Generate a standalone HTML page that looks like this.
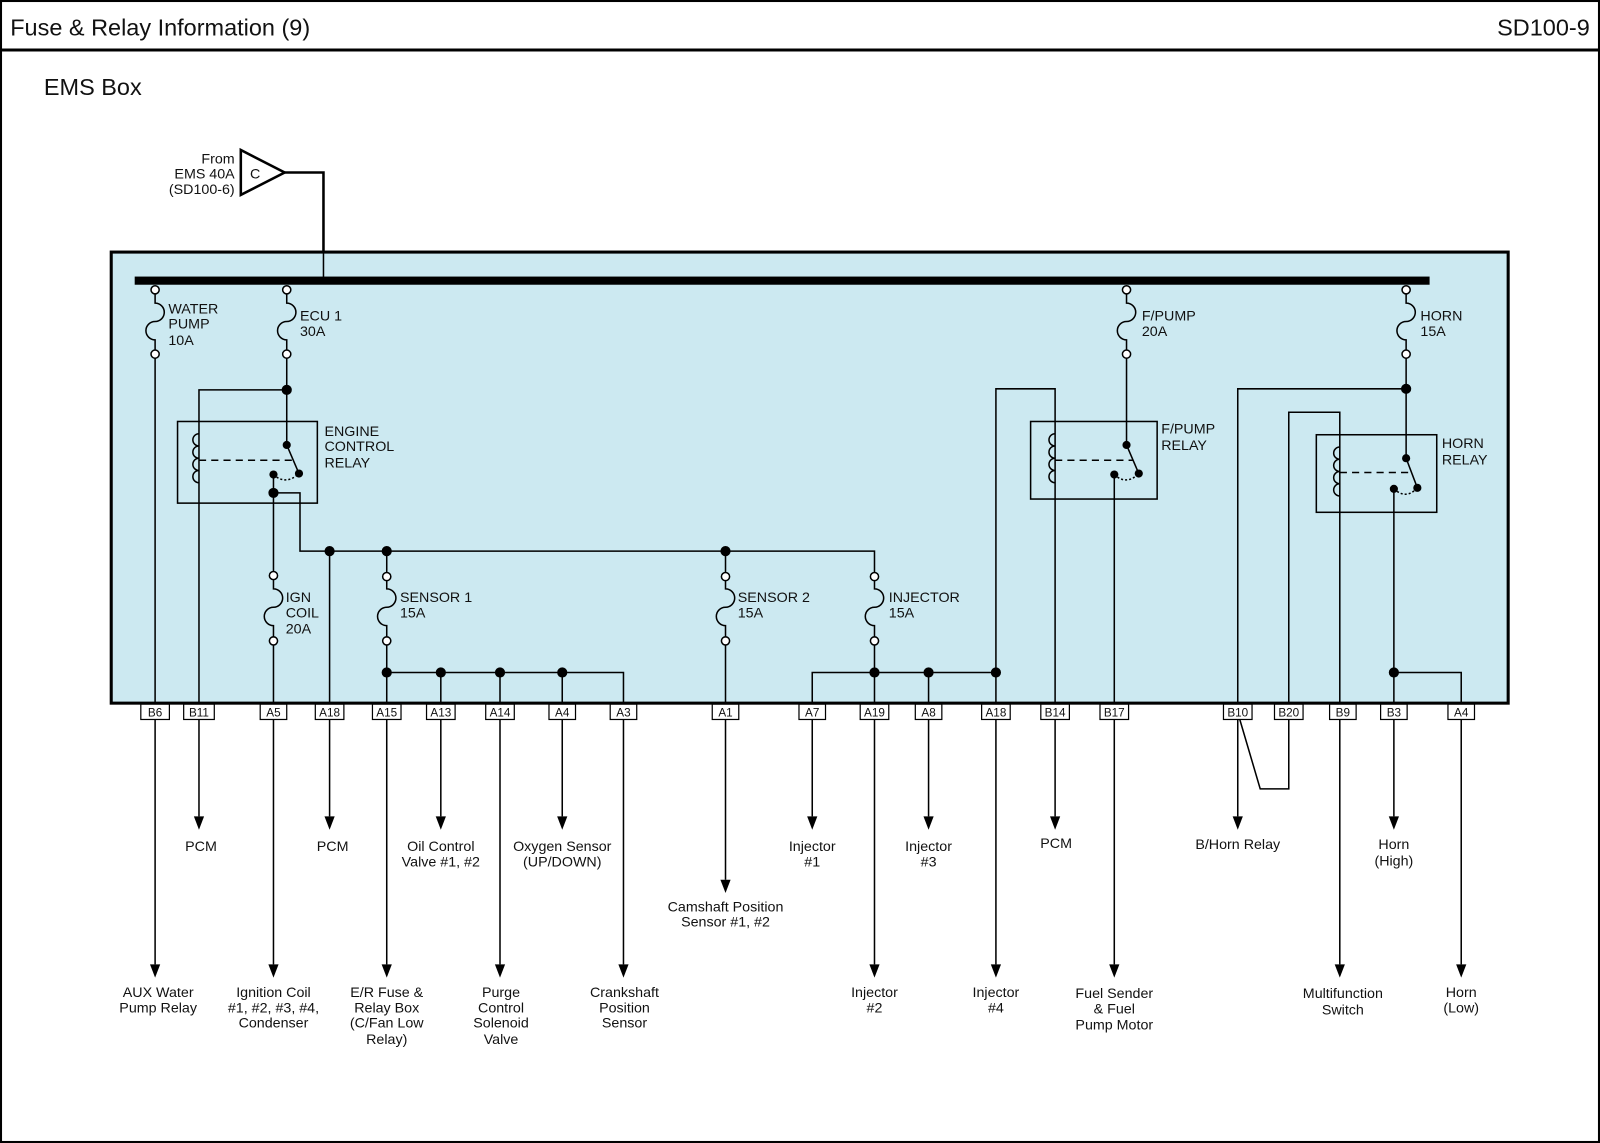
<!DOCTYPE html>
<html><head><meta charset="utf-8"><style>
html,body{margin:0;padding:0;background:#fff}
svg{display:block}
text{font-family:"Liberation Sans",Arial,sans-serif;fill:#111}
.l{font-size:14px}
.c{font-size:11.5px;text-anchor:middle}
.m{text-anchor:middle;font-size:14px}
</style></head><body>
<svg width="1600" height="1143" viewBox="0 0 1568 1120" preserveAspectRatio="none" xmlns="http://www.w3.org/2000/svg">
<rect x="1" y="1" width="1566" height="1118" fill="#fff" stroke="#000" stroke-width="2"/>
<line x1="0" y1="49" x2="1568" y2="49" stroke="#000" stroke-width="3"/>
<text x="10" y="35" style="font-size:23px">Fuse &amp; Relay Information (9)</text>
<text x="1558" y="35" style="font-size:23px;text-anchor:end">SD100-9</text>
<text x="43" y="93" style="font-size:23px">EMS Box</text>

<!-- input -->
<polygon points="236,147 236,191 279,169" fill="#fff" stroke="#000" stroke-width="2.5"/>
<text x="245" y="175" class="l">C</text>
<text x="230" y="160" class="l" text-anchor="end">From</text>
<text x="230" y="175" class="l" text-anchor="end">EMS 40A</text>
<text x="230" y="190" class="l" text-anchor="end">(SD100-6)</text>
<polyline points="279,169 317,169 317,275" fill="none" stroke="#000" stroke-width="2.5"/>

<rect x="109" y="247" width="1369" height="442" fill="#cce9f1" stroke="#000" stroke-width="3"/>
<line x1="317" y1="247" x2="317" y2="275" stroke="#000" stroke-width="1.5"/>
<rect x="132" y="271" width="1269" height="8" fill="#000"/>

<g fill="none" stroke="#000" stroke-width="1.5">
<!-- fuses -->
<path d="M152,288 V297 A9 9 0 0 1 152,315 A9 9 0 0 0 152,333 V343"/>
<path d="M281,288 V297 A9 9 0 0 1 281,315 A9 9 0 0 0 281,333 V343"/>
<path d="M1104,288 V297 A9 9 0 0 1 1104,315 A9 9 0 0 0 1104,333 V343"/>
<path d="M1378,288 V297 A9 9 0 0 1 1378,315 A9 9 0 0 0 1378,333 V343"/>
<path d="M268,568 V577 A9 9 0 0 1 268,595 A9 9 0 0 0 268,613 V624"/>
<path d="M379,569 V577 A9 9 0 0 1 379,595 A9 9 0 0 0 379,613 V624"/>
<path d="M711,569 V577 A9 9 0 0 1 711,595 A9 9 0 0 0 711,613 V624"/>
<path d="M857,569 V577 A9 9 0 0 1 857,595 A9 9 0 0 0 857,613 V624"/>
<g fill="#fff">
<circle cx="152" cy="284" r="4"/><circle cx="152" cy="347" r="4"/>
<circle cx="281" cy="284" r="4"/><circle cx="281" cy="347" r="4"/>
<circle cx="1104" cy="284" r="4"/><circle cx="1104" cy="347" r="4"/>
<circle cx="1378" cy="284" r="4"/><circle cx="1378" cy="347" r="4"/>
<circle cx="268" cy="564" r="4"/><circle cx="268" cy="628" r="4"/>
<circle cx="379" cy="565" r="4"/><circle cx="379" cy="628" r="4"/>
<circle cx="711" cy="565" r="4"/><circle cx="711" cy="628" r="4"/>
<circle cx="857" cy="565" r="4"/><circle cx="857" cy="628" r="4"/>
</g>
<!-- wires -->
<line x1="152" y1="351" x2="152" y2="945"/>
<polyline points="281,351 281,436"/>
<polyline points="281,382 195,382 195,800"/>
<polyline points="268,465 268,560"/>
<polyline points="268,632 268,945"/>
<polyline points="268,483 294,483 294,540 857,540 857,561"/>
<line x1="323" y1="540" x2="323" y2="800"/>
<line x1="379" y1="540" x2="379" y2="561"/>
<line x1="379" y1="632" x2="379" y2="945"/>
<polyline points="379,659 611,659 611,945"/>
<line x1="432" y1="659" x2="432" y2="800"/>
<line x1="490" y1="659" x2="490" y2="945"/>
<line x1="551" y1="659" x2="551" y2="800"/>
<line x1="711" y1="540" x2="711" y2="561"/>
<line x1="711" y1="632" x2="711" y2="862"/>
<line x1="857" y1="632" x2="857" y2="945"/>
<polyline points="796,800 796,659 976,659"/>
<line x1="910" y1="659" x2="910" y2="800"/>
<polyline points="976,945 976,381 1034,381 1034,800"/>
<polyline points="1104,351 1104,436"/>
<polyline points="1092,465 1092,945"/>
<polyline points="1378,351 1378,449"/>
<polyline points="1378,381 1213,381 1213,800"/>
<polyline points="1263,705 1263,404 1313,404 1313,945"/>
<polyline points="1366,479 1366,800"/>
<polyline points="1366,659 1432,659 1432,945"/>
<polyline points="1215,705 1235,773 1263,773 1263,705"/>
<!-- relays -->
<rect x="174" y="413" width="137" height="80"/>
<rect x="1010" y="413" width="124" height="76"/>
<rect x="1290" y="426" width="118" height="76"/>
<path d="M195,425 a6 6 0 0 0 0,12 a6 6 0 0 0 0,12 a6 6 0 0 0 0,12 a6 6 0 0 0 0,12"/>
<path d="M1034,425 a6 6 0 0 0 0,12 a6 6 0 0 0 0,12 a6 6 0 0 0 0,12 a6 6 0 0 0 0,12"/>
<path d="M1313,438 a6 6 0 0 0 0,12 a6 6 0 0 0 0,12 a6 6 0 0 0 0,12 a6 6 0 0 0 0,12"/>
<line x1="195" y1="451" x2="287" y2="451" stroke-dasharray="7,5"/>
<line x1="1034" y1="451" x2="1110" y2="451" stroke-dasharray="7,5"/>
<line x1="1313" y1="463" x2="1384" y2="463" stroke-dasharray="7,5"/>
<line x1="281" y1="436" x2="293" y2="464"/>
<line x1="1104" y1="436" x2="1116" y2="464"/>
<line x1="1378" y1="449" x2="1389" y2="478"/>
<path d="M268,465 Q280,476 293,464" stroke-dasharray="2,2"/>
<path d="M1092,465 Q1104,476 1116,464" stroke-dasharray="2,2"/>
<path d="M1366,479 Q1378,490 1389,478" stroke-dasharray="2,2"/>
</g>
<g fill="#000">
<circle cx="281" cy="382" r="5"/><circle cx="268" cy="483" r="5"/>
<circle cx="281" cy="436" r="4"/><circle cx="293" cy="464" r="4"/><circle cx="268" cy="465" r="4"/>
<circle cx="1104" cy="436" r="4"/><circle cx="1116" cy="464" r="4"/><circle cx="1092" cy="465" r="4"/>
<circle cx="1378" cy="449" r="4"/><circle cx="1389" cy="478" r="4"/><circle cx="1366" cy="479" r="4"/>
<circle cx="1378" cy="381" r="5"/>
<circle cx="323" cy="540" r="5"/><circle cx="379" cy="540" r="5"/><circle cx="711" cy="540" r="5"/>
<circle cx="379" cy="659" r="5"/><circle cx="432" cy="659" r="5"/><circle cx="490" cy="659" r="5"/><circle cx="551" cy="659" r="5"/>
<circle cx="857" cy="659" r="5"/><circle cx="910" cy="659" r="5"/><circle cx="976" cy="659" r="5"/>
<circle cx="1366" cy="659" r="5"/>
<!-- arrowheads -->
<path d="M190,800h10l-5,13z"/><path d="M318,800h10l-5,13z"/><path d="M427,800h10l-5,13z"/><path d="M546,800h10l-5,13z"/>
<path d="M791,800h10l-5,13z"/><path d="M905,800h10l-5,13z"/><path d="M1029,800h10l-5,13z"/><path d="M1208,800h10l-5,13z"/><path d="M1361,800h10l-5,13z"/>
<path d="M706,862h10l-5,13z"/>
<path d="M147,945h10l-5,13z"/><path d="M263,945h10l-5,13z"/><path d="M374,945h10l-5,13z"/><path d="M485,945h10l-5,13z"/><path d="M606,945h10l-5,13z"/>
<path d="M852,945h10l-5,13z"/><path d="M971,945h10l-5,13z"/><path d="M1087,945h10l-5,13z"/><path d="M1308,945h10l-5,13z"/><path d="M1427,945h10l-5,13z"/>
</g>

<!-- labels inside -->
<g class="l">
<text x="165" y="307" class="l">WATER</text><text x="165" y="322" class="l">PUMP</text><text x="165" y="338" class="l">10A</text>
<text x="294" y="314" class="l">ECU 1</text><text x="294" y="329" class="l">30A</text>
<text x="318" y="427" class="l">ENGINE</text><text x="318" y="442" class="l">CONTROL</text><text x="318" y="458" class="l">RELAY</text>
<text x="280" y="590" class="l">IGN</text><text x="280" y="605" class="l">COIL</text><text x="280" y="621" class="l">20A</text>
<text x="392" y="590" class="l">SENSOR 1</text><text x="392" y="605" class="l">15A</text>
<text x="723" y="590" class="l">SENSOR 2</text><text x="723" y="605" class="l">15A</text>
<text x="871" y="590" class="l">INJECTOR</text><text x="871" y="605" class="l">15A</text>
<text x="1119" y="314" class="l">F/PUMP</text><text x="1119" y="329" class="l">20A</text>
<text x="1138" y="425" class="l">F/PUMP</text><text x="1138" y="441" class="l">RELAY</text>
<text x="1392" y="314" class="l">HORN</text><text x="1392" y="329" class="l">15A</text>
<text x="1413" y="439" class="l">HORN</text><text x="1413" y="455" class="l">RELAY</text>
</g>

<!-- connectors -->
<g fill="#fff" stroke="#000" stroke-width="1.2">
<rect x="138" y="690" width="28" height="15"/><rect x="180" y="690" width="30" height="15"/><rect x="255" y="690" width="26" height="15"/>
<rect x="309" y="690" width="28" height="15"/><rect x="365" y="690" width="28" height="15"/><rect x="418" y="690" width="28" height="15"/>
<rect x="476" y="690" width="28" height="15"/><rect x="538" y="690" width="26" height="15"/><rect x="598" y="690" width="26" height="15"/>
<rect x="698" y="690" width="26" height="15"/><rect x="783" y="690" width="26" height="15"/><rect x="843" y="690" width="28" height="15"/>
<rect x="897" y="690" width="26" height="15"/><rect x="962" y="690" width="28" height="15"/><rect x="1020" y="690" width="28" height="15"/>
<rect x="1078" y="690" width="28" height="15"/><rect x="1199" y="690" width="28" height="15"/><rect x="1249" y="690" width="28" height="15"/>
<rect x="1303" y="690" width="26" height="15"/><rect x="1353" y="690" width="26" height="15"/><rect x="1419" y="690" width="26" height="15"/>
</g>
<g class="c">
<text x="152" y="702" class="c">B6</text><text x="195" y="702" class="c">B11</text><text x="268" y="702" class="c">A5</text>
<text x="323" y="702" class="c">A18</text><text x="379" y="702" class="c">A15</text><text x="432" y="702" class="c">A13</text>
<text x="490" y="702" class="c">A14</text><text x="551" y="702" class="c">A4</text><text x="611" y="702" class="c">A3</text>
<text x="711" y="702" class="c">A1</text><text x="796" y="702" class="c">A7</text><text x="857" y="702" class="c">A19</text>
<text x="910" y="702" class="c">A8</text><text x="976" y="702" class="c">A18</text><text x="1034" y="702" class="c">B14</text>
<text x="1092" y="702" class="c">B17</text><text x="1213" y="702" class="c">B10</text><text x="1263" y="702" class="c">B20</text>
<text x="1316" y="702" class="c">B9</text><text x="1366" y="702" class="c">B3</text><text x="1432" y="702" class="c">A4</text>
</g>

<!-- bottom labels -->
<g>
<text x="197" y="834" class="m">PCM</text>
<text x="326" y="834" class="m">PCM</text>
<text x="432" y="834" class="m">Oil Control</text><text x="432" y="849" class="m">Valve #1, #2</text>
<text x="551" y="834" class="m">Oxygen Sensor</text><text x="551" y="849" class="m">(UP/DOWN)</text>
<text x="711" y="893" class="m">Camshaft Position</text><text x="711" y="908" class="m">Sensor #1, #2</text>
<text x="796" y="834" class="m">Injector</text><text x="796" y="849" class="m">#1</text>
<text x="910" y="834" class="m">Injector</text><text x="910" y="849" class="m">#3</text>
<text x="1035" y="831" class="m">PCM</text>
<text x="1213" y="832" class="m">B/Horn Relay</text>
<text x="1366" y="832" class="m">Horn</text><text x="1366" y="848" class="m">(High)</text>
<text x="155" y="977" class="m">AUX Water</text><text x="155" y="992" class="m">Pump Relay</text>
<text x="268" y="977" class="m">Ignition Coil</text><text x="268" y="992" class="m">#1, #2, #3, #4,</text><text x="268" y="1007" class="m">Condenser</text>
<text x="379" y="977" class="m">E/R Fuse &amp;</text><text x="379" y="992" class="m">Relay Box</text><text x="379" y="1007" class="m">(C/Fan Low</text><text x="379" y="1023" class="m">Relay)</text>
<text x="491" y="977" class="m">Purge</text><text x="491" y="992" class="m">Control</text><text x="491" y="1007" class="m">Solenoid</text><text x="491" y="1023" class="m">Valve</text>
<text x="612" y="977" class="m">Crankshaft</text><text x="612" y="992" class="m">Position</text><text x="612" y="1007" class="m">Sensor</text>
<text x="857" y="977" class="m">Injector</text><text x="857" y="992" class="m">#2</text>
<text x="976" y="977" class="m">Injector</text><text x="976" y="992" class="m">#4</text>
<text x="1092" y="978" class="m">Fuel Sender</text><text x="1092" y="993" class="m">&amp; Fuel</text><text x="1092" y="1009" class="m">Pump Motor</text>
<text x="1316" y="978" class="m">Multifunction</text><text x="1316" y="994" class="m">Switch</text>
<text x="1432" y="977" class="m">Horn</text><text x="1432" y="992" class="m">(Low)</text>
</g>
</svg>
</body></html>
